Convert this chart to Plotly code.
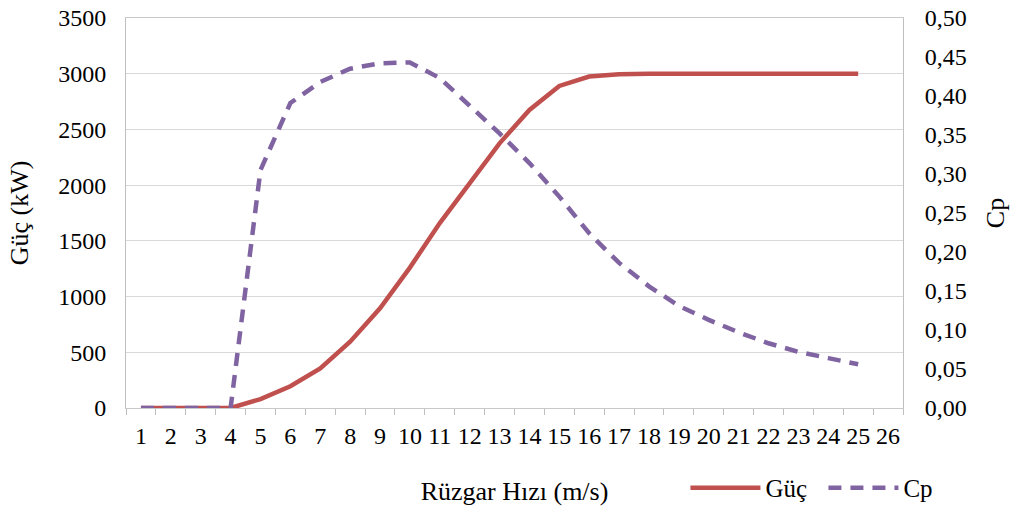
import plotly.graph_objects as go

# wind speed categories (m/s)
speeds = [str(i) for i in range(1, 27)]
speed_data = [str(i) for i in range(1, 26)]

# power curve (kW)
guc = [0, 0, 0, 0, 80, 195, 355, 595, 895, 1260, 1660, 2020, 2375, 2675,
       2890, 2975, 2995, 3000, 3000, 3000, 3000, 3000, 3000, 3000, 3000]

# power coefficient
cp = [0, 0, 0, 0, 0.305, 0.391, 0.418, 0.435, 0.442, 0.443, 0.423, 0.387,
      0.352, 0.314, 0.271, 0.224, 0.186, 0.156, 0.131, 0.113, 0.097, 0.083,
      0.072, 0.064, 0.056]

serif = "Times New Roman, Liberation Serif, serif"

fig = go.Figure()
fig.add_trace(go.Scatter(x=speed_data, y=guc, name="Güç", mode="lines",
                         line=dict(color="#C0504D", width=4.5)))
fig.add_trace(go.Scatter(x=speed_data, y=cp, name="Cp", mode="lines", yaxis="y2",
                         line=dict(color="#8064A2", width=4.5, dash="13px,9px")))

fig.update_layout(
    width=1016, height=506,
    margin=dict(l=126, r=113, t=18, b=98, autoexpand=False),
    paper_bgcolor="white", plot_bgcolor="white",
    font=dict(family=serif, size=24, color="black"),
    separators=",.",
    xaxis=dict(
        type="category", categoryorder="array", categoryarray=speeds,
        range=[-0.5, 25.5], tickson="boundaries", ticks="outside", ticklen=6,
        tickcolor="#bfbfbf", showline=True, linecolor="#c8c8c8", linewidth=1,
        mirror=True, showgrid=False, tickfont=dict(size=24), automargin=False,
        ticklabelstandoff=6, tickangle=0, ticklabeloverflow="allow",
        title=dict(text="Rüzgar Hızı (m/s)", font=dict(size=26), standoff=34),
    ),
    yaxis=dict(
        range=[0, 3500], dtick=500, showgrid=True, gridcolor="#d9d9d9",
        showline=True, linecolor="#bfbfbf", ticks="", zeroline=False,
        ticklabelstandoff=14, automargin=False, ticklabeloverflow="allow",
        title=dict(text="Güç (kW)", font=dict(size=26), standoff=22),
    ),
    yaxis2=dict(
        overlaying="y", side="right", range=[0, 0.5], dtick=0.05,
        tickformat=".2f", showgrid=False, showline=True, linecolor="#bfbfbf",
        ticks="", zeroline=False, ticklabelstandoff=16, automargin=False,
        ticklabeloverflow="allow",
        title=dict(text="Cp", font=dict(size=26), standoff=20),
    ),
    legend=dict(orientation="h", x=0.72, xanchor="left", y=-0.205, yanchor="middle",
                font=dict(size=25), bgcolor="rgba(0,0,0,0)", itemwidth=70,
                entrywidth=53, entrywidthmode="pixels"),
    showlegend=True,
)

# drop the default body margin so the figure fills the window exactly
fig.write_html("out.html", config={"displayModeBar": False},
               post_script="document.body.style.margin='0';")
